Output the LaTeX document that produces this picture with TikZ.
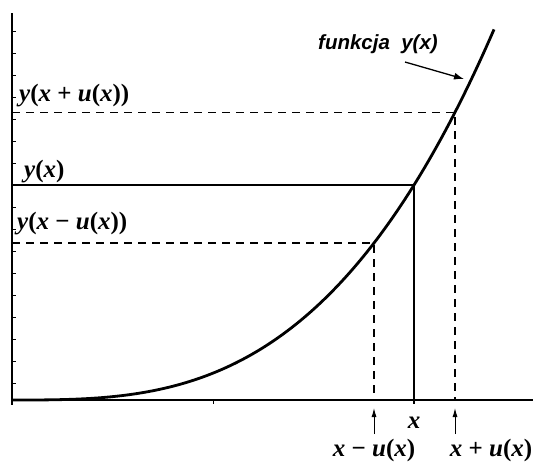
\documentclass[tikz,border=0pt]{standalone}
\usepackage{fontspec}
\setmainfont{Liberation Serif}
\newfontfamily\arialf{Liberation Sans}
\usetikzlibrary{arrows.meta}
\newcommand{\bv}[1]{\textbf{\textit{#1}}}
\newcommand{\bp}[1]{\textbf{#1}}
\begin{document}
\begin{tikzpicture}[x=1pt,y=-1pt,
  axisline/.style={line width=1.6pt},
  tickline/.style={line width=1pt},
  curveline/.style={line width=2.8pt},
  solidguide/.style={line width=1.6pt},
  dashguide/.style={line width=1.5pt, dash pattern=on 8pt off 6pt},
  lbl/.style={inner sep=0pt, font=\fontsize{25}{28}\selectfont},
  flbl/.style={inner sep=0pt, font=\arialf\bfseries\itshape\fontsize{20.5}{24}\selectfont},
  pointer/.style={line width=1.3pt, -{Latex[length=10pt,width=7pt]}},
  uparrow/.style={line width=1pt, -{Latex[length=9pt,width=5pt]}}]
\useasboundingbox (0,0) rectangle (537,464);
% axes
\coordinate (O) at (12,400);
\coordinate (ytop) at (12,13);
\coordinate (ybot) at (12,405);
\coordinate (xend) at (533,400);
\draw[axisline] (ytop) -- (ybot);
\draw[axisline] (O) -- (xend);
\foreach \k in {0,...,16} \draw[tickline] (12,{383-22*\k}) -- (15.5,{383-22*\k});
\draw[tickline] (213,400) -- (213,404);
% curve
\draw[curveline] plot[domain=12:494, samples=120] (\x,{400-215*((\x-12)/402)^3});
% key points
\coordinate (Pm) at (374,243);
\coordinate (P) at (414,185);
\coordinate (Pp) at (455,112.3);
\coordinate (Ym) at (12,243);
\coordinate (Y) at (12,185);
\coordinate (Yp) at (12,112.3);
\coordinate (Xm) at (374,400);
\coordinate (X) at (414,404);
\coordinate (Xp) at (455,400);
\draw[dashguide] (Yp) -- (Pp) -- (Xp);
\draw[solidguide] (Y) -- (P) -- (X);
\draw[dashguide] (Ym) -- (Pm) -- (Xm);
% labels
\node[lbl, anchor=base west] (lyp) at (19,101) {\bv{y}\bp{(}\bv{x} \bp{+} \bv{u}\bp{(}\bv{x}\bp{))}};
\node[lbl, anchor=base west] (ly) at (24,177) {\bv{y}\bp{(}\bv{x}\bp{)}};
\node[lbl, anchor=base west] (lym) at (17,229) {\bv{y}\bp{(}\bv{x} \bp{\char"2212} \bv{u}\bp{(}\bv{x}\bp{))}};
\node[lbl, anchor=base] (lx) at (414,428) {\bv{x}};
\node[lbl, anchor=base] (lxm) at (374,456) {\bv{x} \bp{\char"2212} \bv{u}\bp{(}\bv{x}\bp{)}};
\node[lbl, anchor=base] (lxp) at (491,456) {\bv{x} \bp{+} \bv{u}\bp{(}\bv{x}\bp{)}};
\node[flbl] (lf) at (378,44) {funkcja\ \ y(x)};
% arrows
\coordinate (fa) at (405,62);
\coordinate (fb) at (464,79);
\draw[pointer] (fa) -- (fb);
\coordinate (am1) at (374,434);
\coordinate (am2) at (374,408);
\coordinate (ap1) at (455,434);
\coordinate (ap2) at (455,408);
\draw[uparrow] (am1) -- (am2);
\draw[uparrow] (ap1) -- (ap2);
\end{tikzpicture}
\end{document}
